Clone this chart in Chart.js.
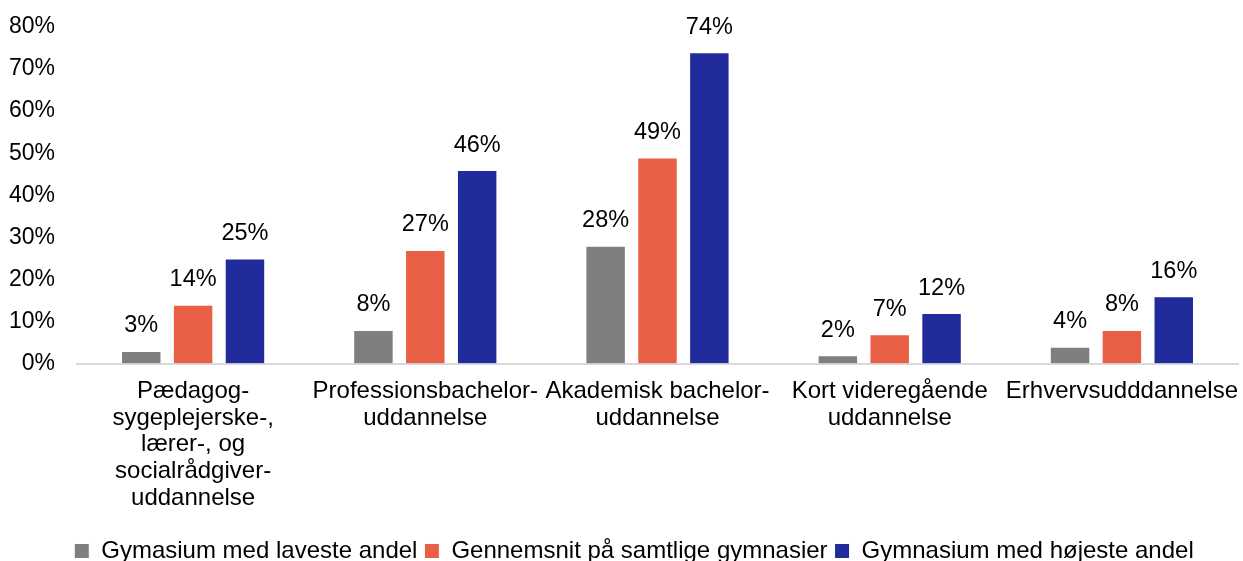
<!DOCTYPE html>
<html>
<head>
<meta charset="utf-8">
<script src="https://cdn.jsdelivr.net/npm/chart.js@4"></script>
<style>
  html, body { margin: 0; padding: 0; background: #fff; }
  #wrap { width: 1243px; height: 561px; position: relative; }
</style>
</head>
<body>
<div id="wrap"><canvas id="myChart"></canvas></div>
<script>
const categories = [
  ["Pædagog-", "sygeplejerske-,", "lærer-, og", "socialrådgiver-", "uddannelse"],
  ["Professionsbachelor-", "uddannelse"],
  ["Akademisk bachelor-", "uddannelse"],
  ["Kort videregående", "uddannelse"],
  "Erhvervsudddannelse",
];
const seriesNames = [
  "Gymasium med laveste andel",
  "Gennemsnit på samtlige gymnasier",
  "Gymnasium med højeste andel",
];
const lowest = [3, 8, 28, 2, 4];
const average = [14, 27, 49, 7, 8];
const highest = [25, 46, 74, 12, 16];
const colors = ["#7f7f7f", "#e95f45", "#212b9c"];

const FONT = "'Liberation Sans', Arial, sans-serif";
Chart.defaults.font.family = FONT;
Chart.defaults.font.size = 23;
Chart.defaults.color = "#000";

// draw the value above each bar
const valueLabels = {
  id: "valueLabels",
  afterDatasetsDraw(chart) {
    const c = chart.ctx;
    c.save();
    c.font = "23.5px " + FONT;
    c.fillStyle = "#000";
    c.textAlign = "center";
    c.textBaseline = "middle";
    chart.data.datasets.forEach((ds, i) => {
      chart.getDatasetMeta(i).data.forEach((bar, j) => {
        c.fillText(ds.data[j] + "%", bar.x, bar.y - 25);
      });
    });
    c.restore();
  },
};

// legend in the original sits a bit right of centre
const legendShift = {
  id: "legendShift",
  afterLayout(chart) {
    if (chart.legend) {
      chart.legend.left += 13;
      chart.legend.right += 13;
    }
  },
};

new Chart(document.getElementById("myChart"), {
  type: "bar",
  data: {
    labels: categories,
    datasets: [
      { label: seriesNames[0], data: lowest, backgroundColor: colors[0] },
      { label: seriesNames[1], data: average, backgroundColor: colors[1] },
      { label: seriesNames[2], data: highest, backgroundColor: colors[2] },
    ].map((d) => ({
      ...d,
      borderColor: "#ffffff",
      borderWidth: 1,
      categoryPercentage: 0.67,
      barPercentage: 0.78,
    })),
  },
  options: {
    responsive: true,
    maintainAspectRatio: false,
    animation: false,
    layout: { padding: { top: 0, right: 5, left: 4, bottom: -12 } },
    plugins: {
      legend: {
        position: "bottom",
        labels: {
          boxWidth: 15,
          boxHeight: 15,
          padding: 7,
          font: { size: 24 },
        },
      },
      tooltip: { enabled: false },
    },
    scales: {
      x: {
        grid: { display: false, drawTicks: false },
        border: { color: "#d9d9d9", width: 2 },
        ticks: {
          padding: 14,
          maxRotation: 0,
          autoSkip: false,
          font: { size: 24, lineHeight: 1.12 },
        },
        afterFit: (scale) => {
          scale.height += 6;
          scale.paddingLeft = 0;
          scale.paddingRight = 0;
        },
      },
      y: {
        min: 0,
        max: 80,
        grid: { display: false, drawTicks: false },
        border: { display: false },
        ticks: { stepSize: 10, padding: 22, callback: (v) => v + "%" },
        afterFit: (scale) => {
          scale.width = 73;
          scale.paddingTop = 27;
        },
      },
    },
  },
  plugins: [valueLabels, legendShift],
});
</script>
</body>
</html>
